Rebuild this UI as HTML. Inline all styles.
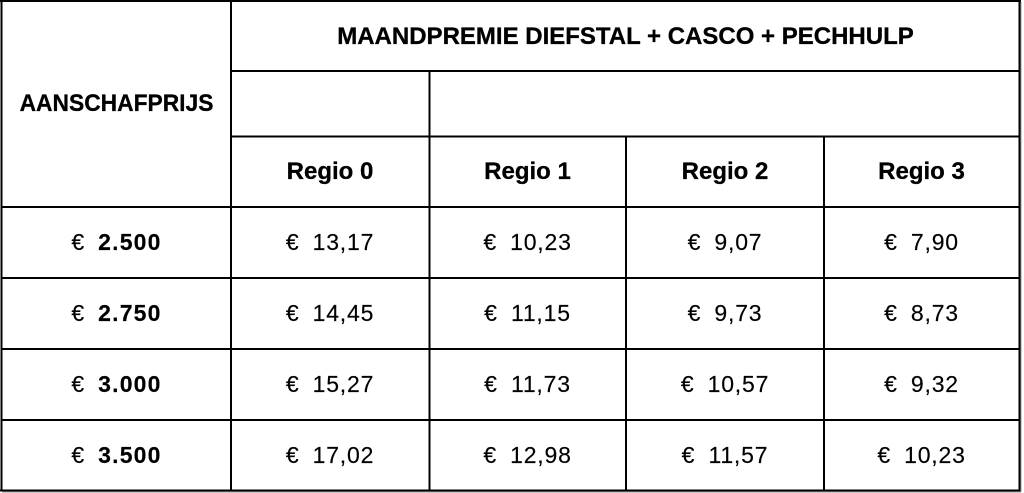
<!DOCTYPE html>
<html>
<head>
<meta charset="utf-8">
<style>
  html, body { margin:0; padding:0; background:#fff; }
  body { width:1024px; height:493px; position:relative; overflow:hidden; }
  svg { position:absolute; left:0; top:0; }
  .t { position:absolute; text-align:center; font-family:"Liberation Sans", Arial, sans-serif;
       font-size:23px; line-height:26px; color:#000; white-space:nowrap; }
  .h { font-weight:bold; font-size:24px; -webkit-text-stroke:0.3px #000; }
  .d { letter-spacing:0.8px; word-spacing:6px; -webkit-text-stroke:0.15px #000; }
  .d b { letter-spacing:1.2px; }
</style>
</head>
<body>
<svg width="1024" height="493" viewBox="0 0 1024 493">
  <rect x="0" y="0" width="1024" height="493" fill="#fff"/>
  <g stroke="#000" stroke-width="2" fill="none">
    <line x1="1.5" y1="0" x2="1.5" y2="491.5"/>
    <line x1="0" y1="1" x2="1021" y2="1"/>
    <line x1="1019.5" y1="0" x2="1019.5" y2="491.5"/>
    <line x1="0" y1="490.5" x2="1021" y2="490.5"/>
    <line x1="231" y1="71" x2="1020" y2="71"/>
    <line x1="231" y1="136.5" x2="1020" y2="136.5"/>
    <line x1="1" y1="207" x2="1020" y2="207"/>
    <line x1="1" y1="278" x2="1020" y2="278"/>
    <line x1="1" y1="349" x2="1020" y2="349"/>
    <line x1="1" y1="420" x2="1020" y2="420"/>
    <line x1="231" y1="0" x2="231" y2="491"/>
    <line x1="429.5" y1="71" x2="429.5" y2="491"/>
    <line x1="626" y1="136.5" x2="626" y2="491"/>
    <line x1="824" y1="136.5" x2="824" y2="491"/>
  </g>
  <line x1="1021" y1="2" x2="1021" y2="492" stroke="#999" stroke-width="1"/>
  <line x1="2" y1="492" x2="1021" y2="492" stroke="#999" stroke-width="1"/>
</svg>

<div class="t h" style="left:231px;width:789px;top:24px;">MAANDPREMIE DIEFSTAL + CASCO + PECHHULP</div>
<div class="t h" style="left:2px;width:229px;top:91px;transform:scaleX(0.95);">AANSCHAFPRIJS</div>
<div class="t h" style="left:231px;width:198px;top:159px;">Regio 0</div>
<div class="t h" style="left:429px;width:197px;top:159px;">Regio 1</div>
<div class="t h" style="left:626px;width:198px;top:159px;">Regio 2</div>
<div class="t h" style="left:824px;width:195px;top:159px;">Regio 3</div>

<div class="t d" style="left:2px;width:229px;top:229px;">€ <b>2.500</b></div>
<div class="t d" style="left:231px;width:198px;top:229px;">€ 13,17</div>
<div class="t d" style="left:429px;width:197px;top:229px;">€ 10,23</div>
<div class="t d" style="left:626px;width:198px;top:229px;">€ 9,07</div>
<div class="t d" style="left:824px;width:195px;top:229px;">€ 7,90</div>

<div class="t d" style="left:2px;width:229px;top:300px;">€ <b>2.750</b></div>
<div class="t d" style="left:231px;width:198px;top:300px;">€ 14,45</div>
<div class="t d" style="left:429px;width:197px;top:300px;">€ 11,15</div>
<div class="t d" style="left:626px;width:198px;top:300px;">€ 9,73</div>
<div class="t d" style="left:824px;width:195px;top:300px;">€ 8,73</div>

<div class="t d" style="left:2px;width:229px;top:371px;">€ <b>3.000</b></div>
<div class="t d" style="left:231px;width:198px;top:371px;">€ 15,27</div>
<div class="t d" style="left:429px;width:197px;top:371px;">€ 11,73</div>
<div class="t d" style="left:626px;width:198px;top:371px;">€ 10,57</div>
<div class="t d" style="left:824px;width:195px;top:371px;">€ 9,32</div>

<div class="t d" style="left:2px;width:229px;top:442px;">€ <b>3.500</b></div>
<div class="t d" style="left:231px;width:198px;top:442px;">€ 17,02</div>
<div class="t d" style="left:429px;width:197px;top:442px;">€ 12,98</div>
<div class="t d" style="left:626px;width:198px;top:442px;">€ 11,57</div>
<div class="t d" style="left:824px;width:195px;top:442px;">€ 10,23</div>
</body>
</html>
